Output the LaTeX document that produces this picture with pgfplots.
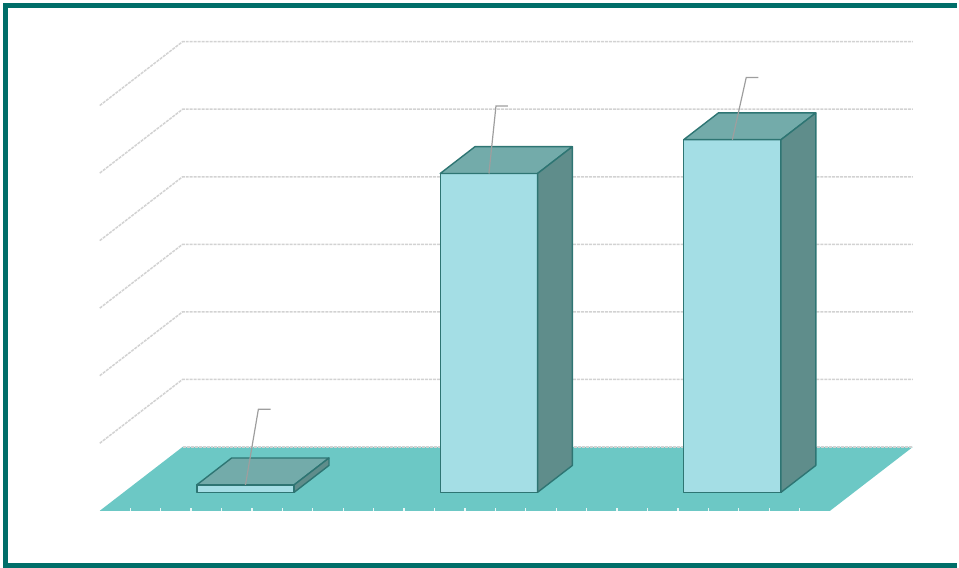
\documentclass[border=0pt]{standalone}
\usepackage{pgfplots}
\pgfplotsset{compat=1.18}
\definecolor{floorc}{HTML}{6CC8C5}
\definecolor{barfront}{HTML}{A4DEE5}
\definecolor{bartop}{HTML}{73ABAA}
\definecolor{barside}{HTML}{5F8D8B}
\definecolor{baredge}{HTML}{2E7573}
\definecolor{gridc}{HTML}{D2D2D2}
\definecolor{leaderc}{HTML}{9E9E9E}
\definecolor{borderc}{HTML}{006E69}
\begin{document}
\begin{tikzpicture}
\begin{axis}[
  at={(0pt,0pt)}, anchor=origin,
  x={(122pt,0pt)}, y={(-41.5pt,-32pt)}, z={(0pt,3.385pt)},
  xmin=0, xmax=3, ymin=0, ymax=1, zmin=0, zmax=60,
  hide axis, clip=false,
  gridstyle/.style={gridc, dash pattern=on 1.5pt off 0.5pt, line width=0.75pt},
  face/.style={draw=baredge, line width=0.7pt, line join=round},
]
% picture frame (pixel-matched)
\path (axis cs:-0.75,0,-17.87) rectangle (axis cs:3.1803,0,66.17);
\draw[borderc, line width=2.25pt] (axis cs:3.1803,0,65.36) -- (axis cs:-0.7275,0,65.36) -- (axis cs:-0.7275,0,-17.58) -- (axis cs:3.1803,0,-17.58);
% floor
\addplot3[fill=floorc, draw=none] coordinates {(0,0,0) (3,0,0) (3,1,0) (0,1,0)} -- cycle;
\addplot3[gridstyle] coordinates {(0,0,0) (3,0,0)};
\addplot3[white!85!floorc, line width=0.6pt, quiver={u=0, v=0, w=0.45}] coordinates {
(0.125,1,0) (0.25,1,0) (0.375,1,0) (0.5,1,0) (0.625,1,0) (0.75,1,0) (0.875,1,0) (1,1,0)
(1.125,1,0) (1.25,1,0) (1.375,1,0) (1.5,1,0) (1.625,1,0) (1.75,1,0) (1.875,1,0) (2,1,0)
(2.125,1,0) (2.25,1,0) (2.375,1,0) (2.5,1,0) (2.625,1,0) (2.75,1,0) (2.875,1,0)};
% back and left wall grid lines
\addplot3[gridstyle] coordinates {(0,1,10) (0,0,10) (3,0,10)};
\addplot3[gridstyle] coordinates {(0,1,20) (0,0,20) (3,0,20)};
\addplot3[gridstyle] coordinates {(0,1,30) (0,0,30) (3,0,30)};
\addplot3[gridstyle] coordinates {(0,1,40) (0,0,40) (3,0,40)};
\addplot3[gridstyle] coordinates {(0,1,50) (0,0,50) (3,0,50)};
\addplot3[gridstyle] coordinates {(0,1,60) (0,0,60) (3,0,60)};
% bar 1 (value 1.1)
\addplot3[fill=barfront, face] coordinates {(0.3,0.71,0) (0.7,0.71,0) (0.7,0.71,1.1) (0.3,0.71,1.1)} -- cycle;
\addplot3[fill=bartop, face] coordinates {(0.3,0.71,1.1) (0.7,0.71,1.1) (0.7,0.29,1.1) (0.3,0.29,1.1)} -- cycle;
\addplot3[fill=barside, face] coordinates {(0.7,0.71,0) (0.7,0.29,0) (0.7,0.29,1.1) (0.7,0.71,1.1)} -- cycle;
% bar 2 (value 47.2)
\addplot3[fill=barfront, face] coordinates {(1.3,0.71,0) (1.7,0.71,0) (1.7,0.71,47.2) (1.3,0.71,47.2)} -- cycle;
\addplot3[fill=bartop, face] coordinates {(1.3,0.71,47.2) (1.7,0.71,47.2) (1.7,0.29,47.2) (1.3,0.29,47.2)} -- cycle;
\addplot3[fill=barside, face] coordinates {(1.7,0.71,0) (1.7,0.29,0) (1.7,0.29,47.2) (1.7,0.71,47.2)} -- cycle;
% bar 3 (value 52.2)
\addplot3[fill=barfront, face] coordinates {(2.3,0.71,0) (2.7,0.71,0) (2.7,0.71,52.2) (2.3,0.71,52.2)} -- cycle;
\addplot3[fill=bartop, face] coordinates {(2.3,0.71,52.2) (2.7,0.71,52.2) (2.7,0.29,52.2) (2.3,0.29,52.2)} -- cycle;
\addplot3[fill=barside, face] coordinates {(2.7,0.71,0) (2.7,0.29,0) (2.7,0.29,52.2) (2.7,0.71,52.2)} -- cycle;
% leader lines
\addplot3[leaderc, line width=0.6pt] coordinates {(0.5,0.71,1.1) (0.553,0.71,12.3) (0.603,0.71,12.3)};
\addplot3[leaderc, line width=0.6pt] coordinates {(1.5,0.71,47.2) (1.529,0.71,57.2) (1.578,0.71,57.2)};
\addplot3[leaderc, line width=0.6pt] coordinates {(2.5,0.71,52.2) (2.557,0.71,61.4) (2.607,0.71,61.4)};
\end{axis}
\end{tikzpicture}
\end{document}
